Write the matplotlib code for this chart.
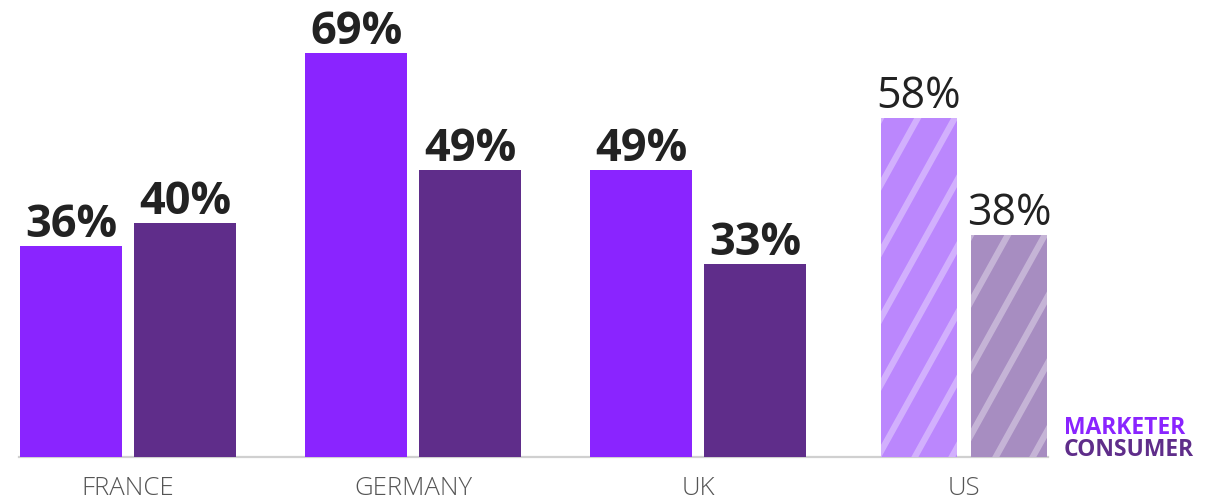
import numpy as np
import matplotlib
matplotlib.use("Agg")
import matplotlib.pyplot as plt
from matplotlib.lines import Line2D
from matplotlib.transforms import IdentityTransform

# survey share by country: marketers vs consumers
countries = ["FRANCE", "GERMANY", "UK", "US"]
marketer = [36, 69, 49, 58]
consumer = [40, 49, 33, 38]
# US figures are shown hatched and in regular weight
hatched = [False, False, False, True]

MARKETER_COLOR = "#8A24FF"
CONSUMER_COLOR = "#5F2D8A"
MARKETER_LIGHT = "#BB87FD"
CONSUMER_LIGHT = "#A78DC1"

plt.rcParams["font.family"] = ["Open Sans", "DejaVu Sans"]

fig = plt.figure(figsize=(12.1, 5.02), dpi=100)
ax = fig.add_axes([0, 0, 1, 1])
ax.set_xlim(-0.449, 3.796)
ax.set_ylim(-7.52, 78.29)
ax.axis("off")

centers = np.array([0, 1, 2, 2.933])
widths = np.array([0.358, 0.358, 0.358, 0.267])
offsets = np.array([0.2, 0.2, 0.2, 0.158])

ax.axhline(0, xmin=0.0157, xmax=0.866, color="#d0d0d0", lw=1.6, zorder=1)


def stripe_bar(rect, spacing=37, angle=61, lw=4.5, alpha=0.35):
    # diagonal light stripes clipped to the bar shape
    fig.canvas.draw()
    bb = rect.get_window_extent()
    slope = np.tan(np.radians(angle))
    run = bb.height / slope
    for x0 in np.arange(bb.x0 - run, bb.x1 + spacing, spacing):
        ln = Line2D([x0, x0 + run], [bb.y0, bb.y1], transform=IdentityTransform(),
                    color="white", lw=lw, alpha=alpha, zorder=3)
        ln.set_clip_path(rect)
        fig.add_artist(ln)


for i, name in enumerate(countries):
    xm = centers[i] - offsets[i]
    xc = centers[i] + offsets[i]
    if hatched[i]:
        cm, cc, weight = MARKETER_LIGHT, CONSUMER_LIGHT, "normal"
    else:
        cm, cc, weight = MARKETER_COLOR, CONSUMER_COLOR, "bold"
    bm = ax.bar(xm, marketer[i], width=widths[i], color=cm, zorder=2)[0]
    bc = ax.bar(xc, consumer[i], width=widths[i], color=cc, zorder=2)[0]
    for x, v in [(xm, marketer[i]), (xc, consumer[i])]:
        ax.annotate(f"{v}%", (x, v), xytext=(0, 7.5), textcoords="offset points",
                    ha="center", va="baseline", fontsize=32.5 if weight == "bold" else 31,
                    fontweight=weight, color="#222222")
    if hatched[i]:
        stripe_bar(bm)
        stripe_bar(bc)
    ax.text(centers[i], -5.2, name, ha="center", va="center", fontsize=18.5,
            fontweight="light", color="#555555")

fig.text(1064 / 1210, (502 - 434) / 502, "MARKETER", color=MARKETER_COLOR,
         fontsize=16.5, fontweight="bold", va="baseline", ha="left")
fig.text(1064 / 1210, (502 - 456) / 502, "CONSUMER", color=CONSUMER_COLOR,
         fontsize=16.5, fontweight="bold", va="baseline", ha="left")

fig.savefig("out.png", dpi=100, facecolor="white")
